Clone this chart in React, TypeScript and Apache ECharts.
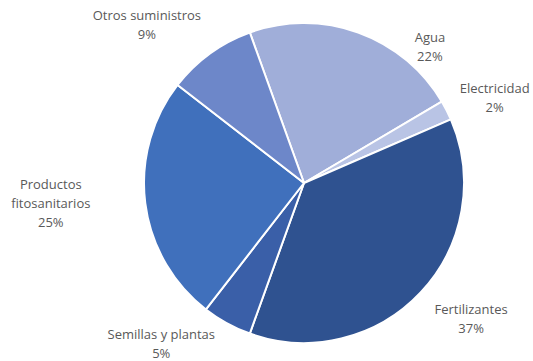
import React, { useEffect, useRef } from "react";
import * as echarts from "echarts";

const categories = [
  "Agua",
  "Electricidad",
  "Fertilizantes",
  "Semillas y plantas",
  "Productos fitosanitarios",
  "Otros suministros",
];
const values = [22, 2, 37, 5, 25, 9];
const colors = ["#A0AED9", "#B9C4E5", "#2F5290", "#3A5FA8", "#4070BC", "#6D87C9"];

// label placement (polar, relative to pie centre): angle clockwise from 12 o'clock, distance px
const labelAngles = [42.6, 65.8, 129, 221.6, 265.5, -44.8];
const labelDists = [186, 209, 215, 215, 254, 223];

const CX = 304;
const CY = 183;
const R = 160;

export default function App() {
  const ref = useRef<HTMLDivElement>(null);
  useEffect(() => {
    document.body.style.margin = "0";
    const chart = echarts.init(ref.current!, null, { renderer: "svg" });
    chart.setOption({
      animation: false,
      backgroundColor: "#ffffff",
      series: [
        {
          type: "pie",
          center: [CX, CY],
          radius: [0, R],
          startAngle: 109.8,
          clockwise: true,
          percentPrecision: 0,
          data: categories.map((c, i) => ({
            name: c,
            value: values[i],
            itemStyle: { color: colors[i] },
          })),
          itemStyle: { borderColor: "#ffffff", borderWidth: 2 },
          label: {
            show: true,
            position: "outside",
            overflow: "none",
            formatter: (p: any) =>
              (p.name.length > 20 ? p.name.replace(" ", "\n") : p.name) + "\n" + p.percent + "%",
            fontFamily: "Open Sans",
            fontSize: 13,
            lineHeight: 19,
            color: "#595959",
            align: "center",
          },
          labelLine: { show: false },
          labelLayout: (p: any) => {
            const i = p.dataIndex;
            const a = (labelAngles[i] * Math.PI) / 180;
            return {
              x: CX + labelDists[i] * Math.sin(a),
              y: CY - labelDists[i] * Math.cos(a),
              align: "center",
              verticalAlign: "middle",
            };
          },
          emphasis: { disabled: true },
        },
      ],
    });
    return () => chart.dispose();
  }, []);
  return <div ref={ref} style={{ width: 533, height: 361 }} />;
}
